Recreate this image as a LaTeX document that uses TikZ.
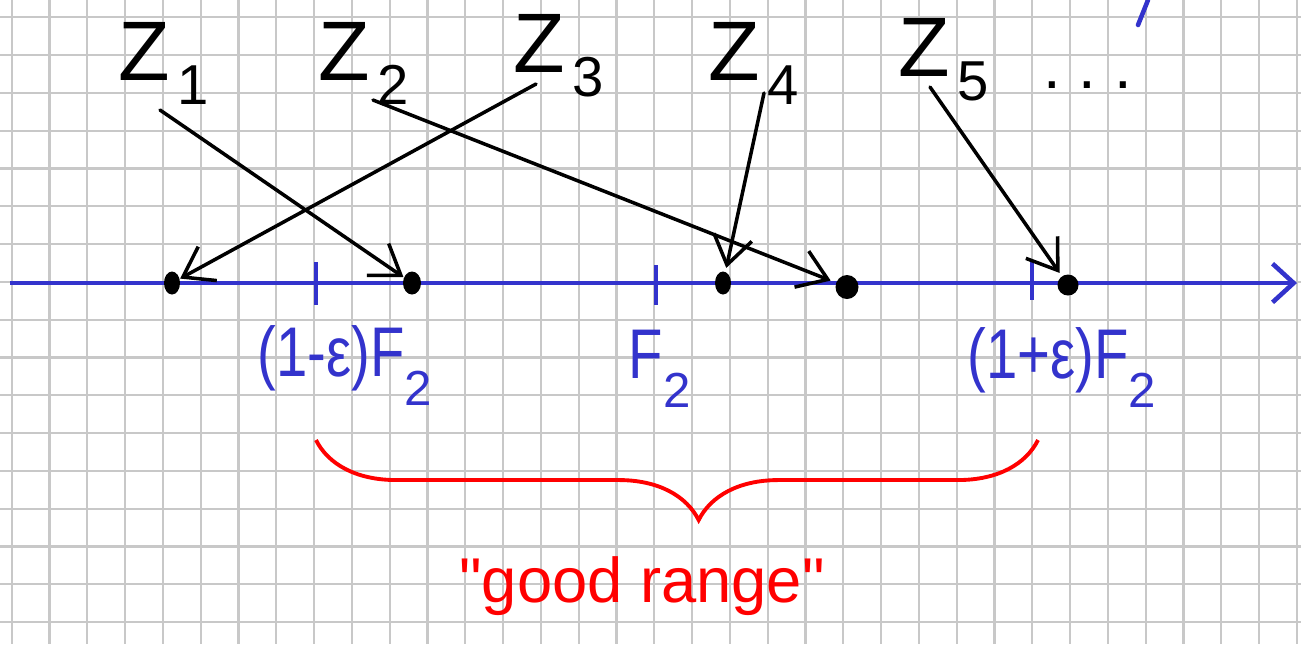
\documentclass[tikz,border=0pt]{standalone}
\usepackage{fontspec}
\setmainfont{Liberation Sans}
\usetikzlibrary{arrows.meta,shapes,decorations.pathreplacing}
\definecolor{penblue}{RGB}{51,51,204}
\definecolor{penred}{RGB}{255,0,0}
\definecolor{gridgray}{RGB}{200,200,200}
\newcommand{\zlab}[1]{Z\kern2pt\raisebox{-7pt}{\fontsize{16}{16}\selectfont #1}}
\newcommand{\flab}[1]{\scalebox{0.8}[1]{#1F}\raisebox{-8.5pt}{\fontsize{14}{14}\selectfont 2}}

\begin{document}
\begin{tikzpicture}[x=0.01cm,y=-0.01cm]
	\tikzstyle{gridline} = [gridgray, line width=0.6pt];
	\tikzstyle{zname} = [font=\fontsize{24}{28}\selectfont, inner sep=0pt, anchor=base west];
	\tikzstyle{flabel} = [penblue, font=\fontsize{20}{24}\selectfont, inner sep=0pt, anchor=base west];
	\tikzstyle{zdot} = [ellipse, fill, inner sep=0pt, minimum width=0.16cm, minimum height=0.23cm];
	\tikzstyle{zarrow} = [line width=1pt, line cap=round, -{Straight Barb[length=8pt,width=11pt]}];
	\tikzstyle{tickmark} = [penblue, line width=1.4pt];
	\tikzstyle{axis} = [penblue, line width=1.3pt, -{Straight Barb[length=6pt,width=11pt]}];
	\tikzstyle{rangebrace} = [penred, line width=1.1pt, decorate,
	  decoration={brace, mirror, amplitude=0.8cm, aspect=0.53}];
	
	\useasboundingbox (0,0) rectangle (1301,644);
	\fill[white] (0,0) rectangle (1301,644);
	\foreach \i in {0,...,34}
	  \draw[gridline] (11.7+37.8*\i,0) -- (11.7+37.8*\i,644);
	\foreach \j in {0,...,16}
	  \draw[gridline] (0,17.3+37.8*\j) -- (1301,17.3+37.8*\j);
	
	% number line
	\coordinate (ax0) at (10,283);
	\coordinate (ax1) at (1297,283);
	\draw[axis] (ax0) -- (ax1);
	\draw[tickmark] (316,262) -- (316,305);
	\draw[tickmark] (656,265) -- (656,305);
	\draw[tickmark] (1032,262) -- (1032,300);
	
	\node[flabel] (lo) at (257,376) {\flab{(1-ε)}};
	\node[flabel] (mid) at (628,378) {\flab{}};
	\node[flabel] (hi) at (967,378) {\flab{(1+ε)}};
	
	\node[zdot] (d1) at (172,283) {};
	\node[zdot, minimum width=0.18cm] (d2) at (412,283) {};
	\node[zdot] (d3) at (723,283) {};
	\node[zdot, minimum width=0.23cm, minimum height=0.24cm] (d4) at (847,287) {};
	\node[zdot, minimum width=0.21cm, minimum height=0.21cm] (d5) at (1068,285) {};
	
	% samples
	\node[zname] (z1) at (118,80) {\zlab{1}};
	\node[zname] (z2) at (318,80) {\zlab{2}};
	\node[zname] (z3) at (513,72) {\zlab{3}};
	\node[zname] (z4) at (708,80) {\zlab{4}};
	\node[zname] (z5) at (898,76) {\zlab{5}};
	\node[font=\fontsize{18}{20}\selectfont, inner sep=0pt, anchor=base west] (more) at (1043,88) {.\ .\ .};
	\draw[penblue, line width=1.3pt, line cap=round] (1138,25) -- (1148,0);
	
	\coordinate (s1) at (160,110);
	\coordinate (s2) at (373,100);
	\coordinate (s3) at (536,84);
	\coordinate (s4) at (764,93);
	\coordinate (s5) at (930,87);
	\draw[zarrow] (s1) -- (d2);
	\draw[zarrow, shorten >=1.5pt] (s2) -- (d4);
	\draw[zarrow] (s3) -- (d1);
	\draw[zarrow, shorten >=1pt] (s4) -- (d3);
	\draw[zarrow, shorten >=1pt] (s5) -- (d5);
	
	% good range
	\coordinate (bl) at (316,440);
	\coordinate (br) at (1038,440);
	\draw[rangebrace] (bl) -- (br);
	\node[penred, font=\fontsize{18}{22}\selectfont, anchor=base] (good) at (642,602) {\textquotedbl good range\textquotedbl};
\end{tikzpicture}
\end{document}
